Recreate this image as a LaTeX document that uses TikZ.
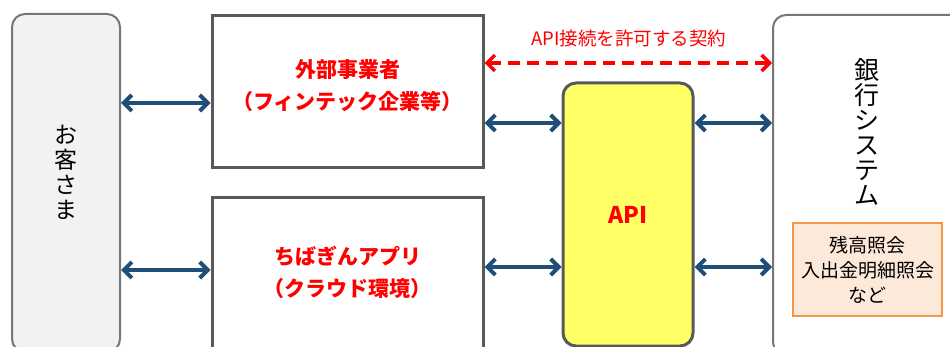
\documentclass[tikz,border=0pt]{standalone}
\usepackage{fontspec}
\setmainfont{Noto Sans CJK JP}
\usetikzlibrary{arrows.meta,calc}
\definecolor{boxgray}{HTML}{595959}
\definecolor{linegray}{HTML}{767676}
\definecolor{custgray}{HTML}{F2F2F2}
\definecolor{apiyellow}{HTML}{FFFF66}
\definecolor{linkblue}{HTML}{1F4E79}
\definecolor{ordfill}{HTML}{FDE9D9}
\definecolor{orddraw}{HTML}{F79646}
\definecolor{ordred}{HTML}{FF0000}

\begin{document}
\begin{tikzpicture}[x=1pt,y=-1pt]
	\path [use as bounding box] (0,0) rectangle (950,347);
	\clip (0,0) rectangle (950,347);
	\tikzstyle{roundbox} = [draw=linegray, line width=2pt, rounded corners=13pt, inner sep=0pt]
	\tikzstyle{squarebox} = [draw=boxgray, line width=3pt, fill=white, inner sep=0pt]
	\tikzstyle{vtext} = [align=center, inner sep=0pt, font=\fontsize{22}{25}\selectfont]
	\tikzstyle{redtext} = [align=center, inner sep=0pt, text=ordred, font=\fontsize{21}{32}\selectfont\bfseries]
	\tikzstyle{link} = [draw=linkblue, line width=4pt, {Straight Barb[length=8pt,width=16pt]}-{Straight Barb[length=8pt,width=16pt]}]
	% boxes
	\node[roundbox, fill=custgray, minimum width=108, minimum height=338] (cust) at (66,183) {};
	\node[squarebox, minimum width=271, minimum height=152] (fin) at (347.5,92) {};
	\node[squarebox, minimum width=271, minimum height=162] (app) at (347.5,279) {};
	\node[roundbox, draw=boxgray, line width=3pt, fill=apiyellow, minimum width=130, minimum height=263] (api) at (628,214.5) {};
	\node[roundbox, fill=white, minimum width=192, minimum height=340] (bank) at (869,185) {};
	\node[draw=orddraw, line width=2pt, fill=ordfill, minimum width=149, minimum height=93, inner sep=0pt] (ord) at (867.5,269.5) {};
	% texts
	\node[vtext, font=\fontsize{23}{25}\selectfont] (custlbl) at (66,172) {お\\客\\さ\\ま};
	\node[vtext, font=\fontsize{25}{25}\selectfont] (banklbl) at (867,132) {銀\\行\\シ\\ス\\テ\\ム};
	\node[redtext] (finlbl) at (347.5,86) {外部事業者\\（フィンテック企業等）};
	\node[redtext] (applbl) at (347.5,272) {ちばぎんアプリ\\（クラウド環境）};
	\node[redtext, font=\fontsize{23}{25}\selectfont\bfseries] (apilbl) at (api.center) {API};
	\node[align=center, inner sep=0pt, font=\fontsize{19}{25}\selectfont] (ordlbl) at (ord.center) {残高照会\\入出金明細照会\\など};
	\node[text=ordred, inner sep=0pt, font=\fontsize{18.5}{18.5}\selectfont] (contract) at (629,38) {API接続を許可する契約};
	% rows of the connectors
	\coordinate (r1) at (0,103);
	\coordinate (r2) at (0,270);
	\coordinate (r3) at (0,123);
	\coordinate (r4) at (0,267);
	\coordinate (rc) at (0,63);
	% connectors
	\draw[link] (cust.east |- r1) -- (fin.west |- r1);
	\draw[link] (cust.east |- r2) -- (app.west |- r2);
	\draw[link] (fin.east |- r3) -- (api.west |- r3);
	\draw[link] (app.east |- r4) -- (api.west |- r4);
	\draw[link] (api.east |- r3) -- (bank.west |- r3);
	\draw[link] (api.east |- r4) -- (bank.west |- r4);
	\draw[link, draw=ordred, line width=3.5pt, dash pattern=on 12pt off 7pt] (fin.east |- rc) -- (bank.west |- rc);
\end{tikzpicture}
\end{document}
